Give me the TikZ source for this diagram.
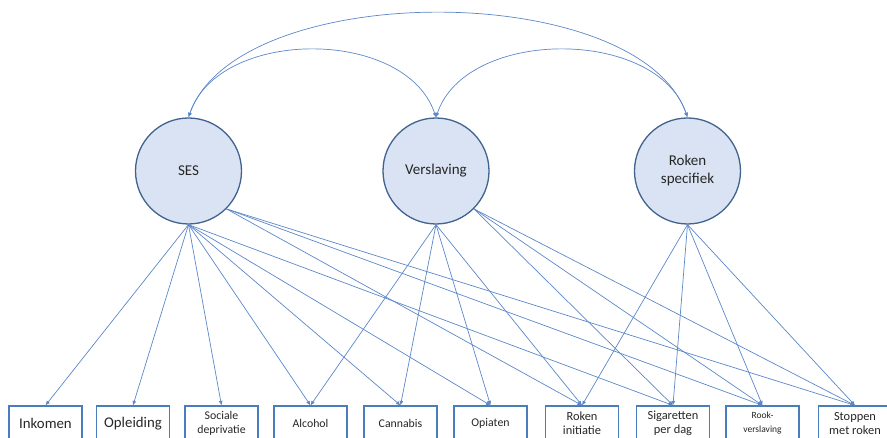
\documentclass[tikz,border=0pt]{standalone}
\usepackage{fontspec}
\setmainfont{Carlito}
\usetikzlibrary{arrows.meta}
\definecolor{ln}{HTML}{5B87C9}
\definecolor{bx}{HTML}{4A7EBB}
\definecolor{cfill}{HTML}{DAE3F3}
\definecolor{cdraw}{HTML}{41648F}
\definecolor{txt}{HTML}{262626}
\begin{document}
\begin{tikzpicture}[x=1pt,y=1pt,
 lat/.style={circle, draw=cdraw, fill=cfill, line width=1.3pt, minimum size=106pt, inner sep=0pt, align=center, font=\fontsize{15}{18}\selectfont, text=txt},
 obs/.style={draw=bx, line width=1.2pt, minimum width=73pt, minimum height=35pt, inner sep=0pt, align=center, text=txt},
 big/.style={font=\fontsize{14.8}{16}\selectfont},
 mid/.style={font=\fontsize{12.4}{14}\selectfont},
 sml/.style={font=\fontsize{11.8}{14}\selectfont},
 tiny/.style={font=\fontsize{9.5}{14}\selectfont},
 edgeln/.style={draw=ln, line width=0.7pt, -{Latex[length=4.5pt,width=4pt]}},
 cov/.style={draw=ln, line width=0.7pt, {Latex[length=4.5pt,width=4pt]}-{Latex[length=4.5pt,width=4pt]}}
]
\useasboundingbox (0,0) rectangle (887,438);
\clip (0,0) rectangle (887,438);

\node[lat] (ses) at (188.5,267) {SES};
\node[lat] (ver) at (436,267) {Verslaving};
\node[lat] (rok) at (687.5,267) {Roken\\specifiek};

\node[obs,big] (b1) at (45.5,14.5) {Inkomen};
\node[obs,big] (b2) at (133,14.5) {Opleiding};
\node[obs,sml] (b3) at (221.5,14.5) {Sociale\\deprivatie};
\node[obs,sml] (b4) at (310.5,14.5) {Alcohol};
\node[obs,sml] (b5) at (400.5,14.5) {Cannabis};
\node[obs,sml] (b6) at (490.5,14.5) {Opiaten};
\node[obs,mid] (b7) at (582,14.5) {Roken\\initiatie};
\node[obs,mid] (b8) at (673,14.5) {Sigaretten\\per dag};
\node[obs,tiny] (b9) at (762.5,14.5) {Rook-\\verslaving};
\node[obs,mid] (b10) at (855,14.5) {Stoppen\\met roken};

\foreach \t in {b1,b2,b3,b4,b5,b6,b8} \draw[edgeln] (ses.south) -- (\t.north);
\foreach \t in {b7,b9,b10} \draw[edgeln] (ses.south east) -- (\t.north);
\foreach \t in {b4,b5,b6,b7} \draw[edgeln] (ver.south) -- (\t.north);
\foreach \t in {b8,b9,b10} \draw[edgeln] (ver.south east) -- (\t.north);
\foreach \t in {b7,b8,b9,b10} \draw[edgeln] (rok.south) -- (\t.north);

\draw[cov] (ses.north) .. controls +(49,139) and +(-49,139) .. (rok.north);
\draw[cov] (ses.north) .. controls +(30,90) and +(-30,90) .. (ver.north);
\draw[cov] (ver.north) .. controls +(30,90) and +(-30,90) .. (rok.north);
\end{tikzpicture}
\end{document}
